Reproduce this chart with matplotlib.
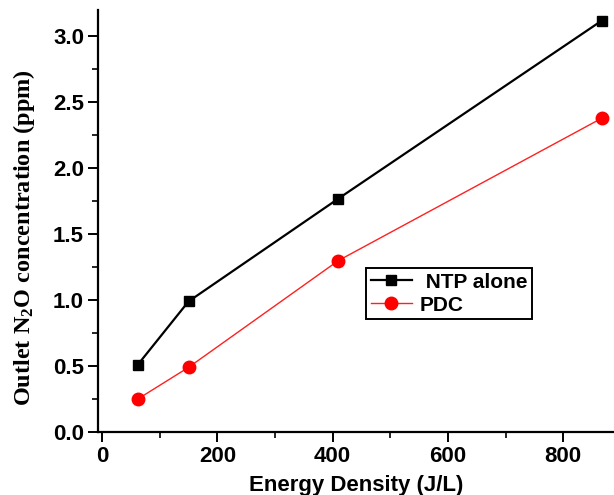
import matplotlib
matplotlib.use("Agg")
import matplotlib.pyplot as plt
from matplotlib.ticker import MultipleLocator, FormatStrFormatter

# Energy density (J/L) and outlet N2O concentration (ppm)
energy_ntp = [62, 150, 410, 867]
n2o_ntp = [0.51, 0.99, 1.77, 3.12]
energy_pdc = [62, 150, 410, 867]
n2o_pdc = [0.25, 0.49, 1.30, 2.38]
series_labels = [" NTP alone", "PDC"]

plt.rcParams["mathtext.fontset"] = "custom"
plt.rcParams["mathtext.rm"] = "Liberation Serif:bold"
plt.rcParams["mathtext.it"] = "Liberation Serif:bold"
plt.rcParams["mathtext.bf"] = "Liberation Serif:bold"

W, H = 614, 495
fig = plt.figure(figsize=(W / 100, H / 100), dpi=100)

# axes box in pixel coordinates
left, right, top, bottom = 98, 614, 10, 432
ax = fig.add_axes([left / W, 1 - bottom / H, (right - left) / W, (bottom - top) / H])

ax.plot(energy_ntp, n2o_ntp, color="black", lw=1.6, marker="s", ms=7.5,
        label=series_labels[0], clip_on=False, zorder=3)
ax.plot(energy_pdc, n2o_pdc, color="#ff2020", lw=1.0, marker="o", ms=9,
        markerfacecolor="#ff0000", markeredgecolor="#ff0000",
        label=series_labels[1], clip_on=False, zorder=3)

ax.set_xlim(-7, 888)
ax.set_ylim(0, 3.2)
ax.xaxis.set_major_locator(MultipleLocator(200))
ax.xaxis.set_minor_locator(MultipleLocator(100))
ax.yaxis.set_major_locator(MultipleLocator(0.5))
ax.yaxis.set_minor_locator(MultipleLocator(0.25))
ax.yaxis.set_major_formatter(FormatStrFormatter("%.1f"))

for s in ("top", "right"):
    ax.spines[s].set_visible(False)
for s in ("left", "bottom"):
    ax.spines[s].set_linewidth(1.6)

ax.tick_params(which="major", direction="out", length=7, width=1.4,
               labelsize=16, pad=3)
ax.tick_params(which="minor", direction="out", length=4, width=1.2)
for lab in ax.get_xticklabels() + ax.get_yticklabels():
    lab.set_fontfamily("Liberation Sans")
    lab.set_fontweight("bold")

ax.set_xlabel("Energy Density (J/L)", fontsize=16, fontweight="bold",
              family="Liberation Sans", labelpad=6)
ax.set_ylabel(r"Outlet N$_2$O concentration (ppm)", fontsize=17.5,
              fontweight="bold", family="Liberation Serif")
ax.yaxis.set_label_coords(-0.118, 0.46)

leg = ax.legend(loc="upper left", bbox_to_anchor=((366 - left) / (right - left),
                                                  1 - (268 - top) / (bottom - top)),
                frameon=True, fancybox=False, edgecolor="black", framealpha=1,
                prop={"family": "Liberation Sans", "weight": "bold", "size": 15},
                handlelength=2.0, handletextpad=0.35, borderpad=0.22,
                labelspacing=0.2, borderaxespad=0)
leg.get_frame().set_linewidth(1.4)

fig.savefig("out.png", dpi=100)
